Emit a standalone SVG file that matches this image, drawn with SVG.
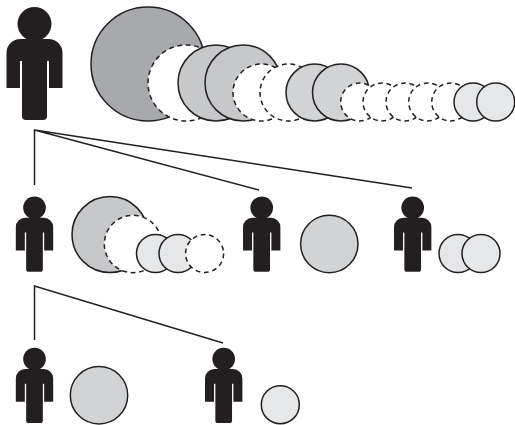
<svg xmlns="http://www.w3.org/2000/svg" width="515" height="425" viewBox="0 0 515 425">
<style>
circle{stroke:#231f20;stroke-width:1.5}
.d{fill:#fff;stroke-dasharray:4.800 3.700}
.a{fill:#a7a9ac}.b{fill:#c7c8ca}.c{fill:#d1d3d4}.e{fill:#e6e7e8}
.l{fill:none;stroke:#231f20;stroke-width:1.5}
.p{fill:#231f20;stroke:none}
</style>
<defs>
<g id="person">
<circle class="p" cx="0" cy="17" r="17"/>
<path class="p" d="M-14 32H14A14 14 0 0 1 28 46V81H14.500V54H12.500V109A4 4 0 0 1 8.500 113H-8.500A4 4 0 0 1 -12.500 109V54H-14.500V81H-28V46A14 14 0 0 1 -14 32Z"/>
</g>
</defs>
<g id="connectors">
<path class="l" d="M34.500 185V130L259 190M34.500 130L412 188"/>
<path class="l" d="M34.500 340V286L223 343"/>
</g>
<g id="person-root">
<use href="#person" transform="translate(34.500 7)"/>
<circle class="a" cx="148" cy="64" r="57"/>
<circle class="d" cx="186" cy="83" r="38"/>
<circle class="b" cx="216" cy="83" r="38"/>
<circle class="b" cx="243" cy="83" r="38"/>
<circle class="d" cx="261.500" cy="92.500" r="28.500"/>
<circle class="d" cx="288.500" cy="92.500" r="28.500"/>
<circle class="c" cx="314.500" cy="92.500" r="28.500"/>
<circle class="c" cx="341" cy="92.500" r="28.500"/>
<circle class="d" cx="359.700" cy="102" r="19"/>
<circle class="d" cx="382" cy="102" r="19"/>
<circle class="d" cx="405" cy="102" r="19"/>
<circle class="d" cx="427.700" cy="102" r="19"/>
<circle class="d" cx="450.700" cy="102" r="19"/>
<circle class="e" cx="473" cy="102" r="19"/>
<circle class="e" cx="495.700" cy="102" r="19"/>
</g>
<g id="person-a">
<use href="#person" transform="translate(34.500 196.500) scale(.667)"/>
<circle class="b" cx="110" cy="234.500" r="38"/>
<circle class="d" cx="133" cy="244" r="28.700"/>
<circle class="e" cx="155.500" cy="253.500" r="19"/>
<circle class="e" cx="178" cy="253.500" r="19"/>
<circle class="d" cx="204.600" cy="253.500" r="19"/>
</g>
<g id="person-b">
<use href="#person" transform="translate(261.700 196.500) scale(.667)"/>
<circle class="c" cx="329.300" cy="244" r="28.700"/>
</g>
<g id="person-c">
<use href="#person" transform="translate(412.700 196.500) scale(.667)"/>
<circle class="e" cx="458" cy="253.500" r="19"/>
<circle class="e" cx="481" cy="253.500" r="19"/>
</g>
<g id="person-d">
<use href="#person" transform="translate(34.500 347.700) scale(.667)"/>
<circle class="c" cx="99" cy="395.300" r="28.700"/>
</g>
<g id="person-e">
<use href="#person" transform="translate(223.700 347.700) scale(.667)"/>
<circle class="e" cx="280.300" cy="404.700" r="19"/>
</g>
</svg>
